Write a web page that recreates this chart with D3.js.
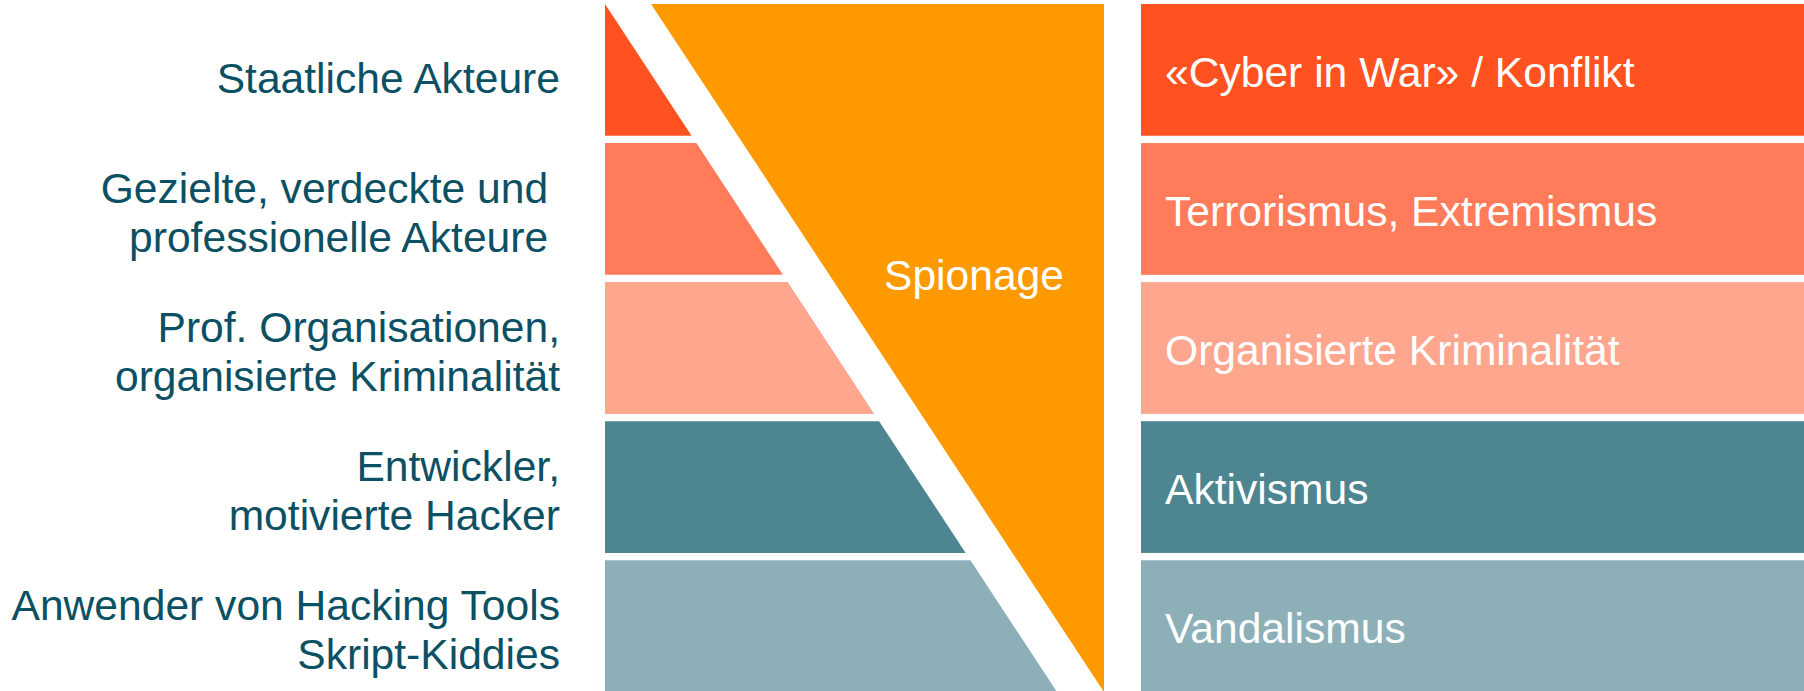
<!DOCTYPE html>
<html>
<head>
<meta charset="utf-8">
<script src="https://cdn.jsdelivr.net/npm/d3@7"></script>
<style>
  html, body { margin: 0; padding: 0; background: #fff; }
  svg { display: block; }
  text { font-family: "Liberation Sans", Arial, sans-serif; font-size: 42.6px; white-space: pre; }
</style>
</head>
<body>
<svg id="chart" width="1804" height="691"></svg>
<script>
// Threat pyramid: actors (left), motives (right), espionage wedge in the middle
const levels = ['state', 'targeted', 'organised', 'hackers', 'kiddies'];

const actors = [
  ['Staatliche Akteure'],
  ['Gezielte, verdeckte und ', 'professionelle Akteure '],
  ['Prof. Organisationen,', 'organisierte Kriminalität'],
  ['Entwickler,', 'motivierte Hacker'],
  ['Anwender von Hacking Tools', 'Skript-Kiddies']
];

const motives = [
  '«Cyber in War» / Konflikt',
  'Terrorismus, Extremismus',
  'Organisierte Kriminalität',
  'Aktivismus',
  'Vandalismus'
];

const colors = ['#ff5220', '#ff7b5a', '#ffa68e', '#4d8590', '#8db0b8'];

const wedgeLabel = 'Spionage';

const svg = d3.select('#chart');
const W = 1804, H = 691;

// layout
const yTop = 4, yBottom = 692;
const pyrLeft = 605;      // left edge of pyramid bands
const diagEnd = 1057;     // where the cut line meets the bottom
const gapX = 46;          // width of white diagonal strip
const wedgeRight = 1104;  // right side of the orange wedge
const boxLeft = 1141;     // right column of motive boxes
const labelRight = 560;   // right edge of actor labels

const y = d3.scaleBand()
  .domain(levels)
  .range([yTop, yBottom])
  .paddingInner(0.0525)
  .paddingOuter(0);

// diagonal cut: x position along the slope for a given y
const diag = d3.scaleLinear().domain([yTop, yBottom]).range([pyrLeft, diagEnd]);

const line = d3.line();

// pyramid bands (trapezoids cut by the diagonal)
svg.append('g').selectAll('path')
  .data(levels)
  .join('path')
  .attr('fill', (d, i) => colors[i])
  .attr('d', d => {
    const y0 = y(d), y1 = y(d) + y.bandwidth();
    return line([[pyrLeft, y0], [diag(y0), y0], [diag(y1), y1], [pyrLeft, y1]]) + 'Z';
  });

// orange espionage wedge
svg.append('path')
  .attr('fill', '#ff9900')
  .attr('d', line([[diag(yTop) + gapX, yTop], [wedgeRight, yTop], [wedgeRight, yBottom]]) + 'Z');

svg.append('text')
  .attr('x', 974)
  .attr('y', 290)
  .attr('text-anchor', 'middle')
  .attr('fill', '#fff')
  .text(wedgeLabel);

// right column boxes
const boxes = svg.append('g').selectAll('g')
  .data(levels)
  .join('g')
  .attr('transform', d => `translate(${boxLeft},${y(d)})`);

boxes.append('rect')
  .attr('width', W - boxLeft)
  .attr('height', y.bandwidth())
  .attr('fill', (d, i) => colors[i]);

boxes.append('text')
  .attr('x', 24)
  .attr('y', y.bandwidth() / 2)
  .attr('dy', '0.4em')
  .attr('fill', '#fff')
  .text((d, i) => motives[i]);

// left actor labels
const lineH = 49.5;
const labels = svg.append('g').selectAll('text')
  .data(levels)
  .join('text')
  .attr('text-anchor', 'end')
  .attr('fill', '#0b5063');

labels.each(function(d, i) {
  const lines = actors[i];
  // single-line label sits a bit lower in the original
  const cy = y(d) + y.bandwidth() / 2 + (lines.length === 1 ? 8 : 3);
  const t = d3.select(this);
  lines.forEach((s, k) => {
    t.append('tspan')
      .attr('x', labelRight)
      .attr('y', cy + (k - (lines.length - 1) / 2) * lineH)
      .attr('dy', '0.36em')
      .text(s);
  });
});
</script>
</body>
</html>
